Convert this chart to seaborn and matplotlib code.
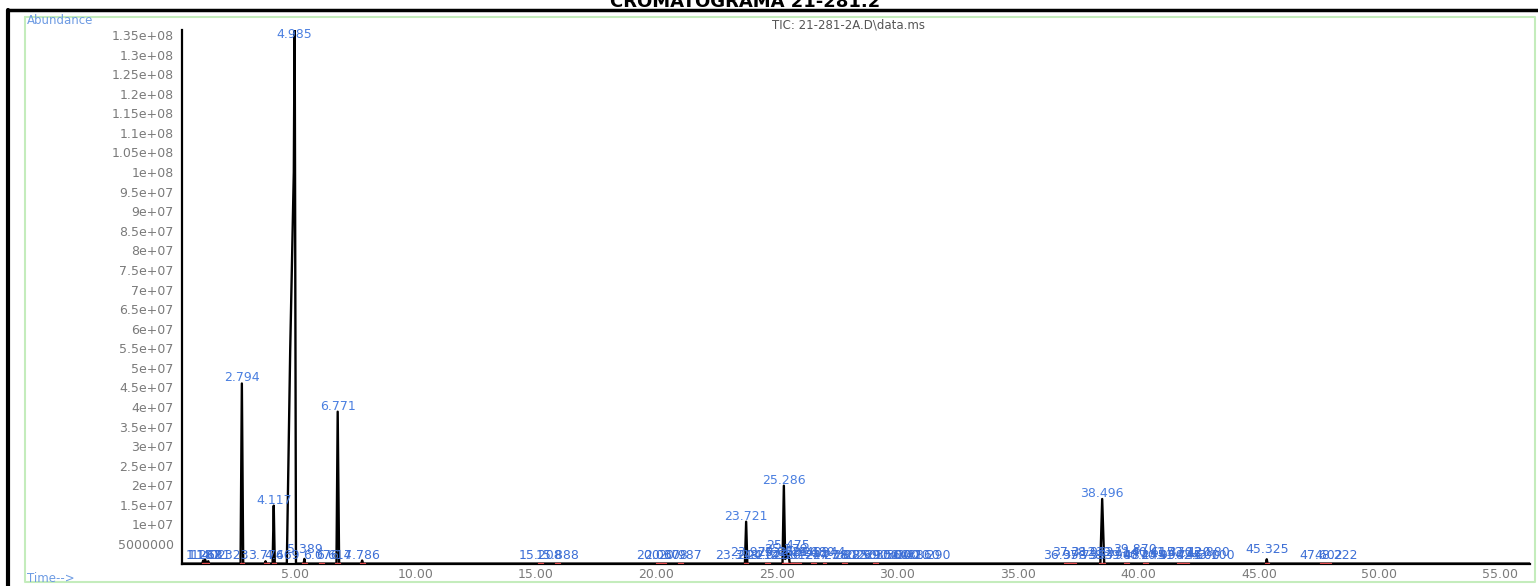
import matplotlib
matplotlib.use("Agg")
import matplotlib.pyplot as plt
from matplotlib.lines import Line2D
from matplotlib.ticker import MultipleLocator, FixedLocator
import seaborn as sns
import pandas as pd

# ---------------- data ----------------
trace_min = [0.31, 1.15, 1.19, 1.23, 1.27, 1.31, 1.40, 1.44,
             2.74, 2.794, 2.85,
             3.74, 3.776, 3.81,
             4.07, 4.117, 4.16,
             4.66, 4.80, 4.95, 4.985, 5.04,
             5.36, 5.389, 5.42,
             6.72, 6.771, 6.83,
             7.75, 7.786, 7.82,
             23.67, 23.721, 23.77,
             25.23, 25.286, 25.34, 25.40, 25.475, 25.53,
             38.42, 38.496, 38.58,
             45.29, 45.325, 45.36,
             56.25]
trace_abund = [0, 0, 8e5, 0, 1.0e6, 0, 6e5, 0,
               0, 4.60e7, 0,
               0, 6e5, 0,
               0, 1.48e7, 0,
               0, 5.45e7, 1.0e8, 1.40e8, 0,
               0, 1.2e6, 0,
               0, 3.88e7, 0,
               0, 8e5, 0,
               0, 1.07e7, 0,
               0, 1.99e7, 1.2e6, 1.6e6, 2.6e6, 0,
               0, 1.65e7, 0,
               0, 1.1e6, 0,
               0]

# labelled main peaks
peak_rt = [2.794, 4.117, 4.985, 6.771, 23.721, 25.286, 38.496]
peak_height = [4.60e7, 1.48e7, 1.40e8, 3.88e7, 1.07e7, 1.99e7, 1.65e7]

# small peak labels crowded along the baseline (rt, stagger level)
small_rt = [1.187, 1.268, 1.402, 1.611, 2.323, 3.776, 4.469, 5.389, 6.076, 6.614, 7.786,
            15.208, 15.888,
            20.060, 20.378, 20.987, 23.318, 23.979, 24.214,
            24.623, 25.098, 25.379, 25.475, 25.612, 25.940, 26.244, 26.480, 26.944,
            27.380, 27.812, 28.250, 28.690, 29.130, 29.560, 30.000, 30.420, 30.860, 31.290,
            36.958, 37.312, 37.735, 38.062, 38.790, 39.114, 39.487, 39.870, 40.245,
            40.615, 40.990, 41.370, 41.745, 42.120, 42.500, 42.880, 43.100,
            45.325, 47.602, 48.222]
small_level = [0, 0, 0, 0, 0, 0, 0, 2, 0, 0, 0,
               0, 0,
               0, 0, 0, 0, 1, 0,
               0, 1, 2, 3, 0, 1, 0, 1, 1,
               0, 0, 0, 0, 0, 0, 0, 0, 0, 0,
               0, 1, 0, 1, 0, 1, 0, 2, 0,
               1, 0, 1, 0, 1, 0, 1, 0,
               2, 0, 0]

# integration baseline marks (start, end) in minutes
red_start = [1.15, 2.70, 3.70, 4.05, 5.30, 6.00, 6.68, 7.70, 15.10, 15.80, 20.00, 20.90,
             23.62, 24.50, 25.20, 25.60, 26.40, 26.90, 27.70, 29.00, 36.90, 38.38,
             39.40, 40.20, 41.60, 45.25, 47.55]
red_end = [1.45, 2.90, 3.90, 4.20, 5.50, 6.20, 6.85, 7.90, 15.30, 16.00, 20.40, 21.10,
           23.80, 24.70, 25.55, 26.00, 26.60, 27.05, 27.90, 29.20, 37.40, 38.60,
           39.60, 40.40, 42.10, 45.40, 48.00]

ytick_vals = [5e6 * k for k in range(1, 28)]
ytick_labels = ["5000000", "1e+07", "1.5e+07", "2e+07", "2.5e+07", "3e+07", "3.5e+07",
                "4e+07", "4.5e+07", "5e+07", "5.5e+07", "6e+07", "6.5e+07", "7e+07",
                "7.5e+07", "8e+07", "8.5e+07", "9e+07", "9.5e+07", "1e+08", "1.05e+08",
                "1.1e+08", "1.15e+08", "1.2e+08", "1.25e+08", "1.3e+08", "1.35e+08"]
xtick_vals = [5, 10, 15, 20, 25, 30, 35, 40, 45, 50, 55]
xtick_labels = ["5.00", "10.00", "15.00", "20.00", "25.00", "30.00", "35.00",
                "40.00", "45.00", "50.00", "55.00"]

title = "CROMATOGRAMA 21-281.2"
subtitle = "TIC: 21-281-2A.D\\data.ms"

# ---------------- styling ----------------
sns.set_style("white")
plt.rcParams["font.family"] = ["DejaVu Sans"]

W, H = 1538, 586
fig = plt.figure(figsize=(W / 100, H / 100), dpi=100)
ax_left, ax_right, ax_top, ax_bottom = 182, 1530, 30, 563.6
ax = fig.add_axes([ax_left / W, (H - ax_bottom) / H,
                   (ax_right - ax_left) / W, (ax_bottom - ax_top) / H])
ax.set_facecolor("white")

df = pd.DataFrame({"time": trace_min, "abundance": trace_abund})
sns.lineplot(data=df, x="time", y="abundance", color="black", lw=1.7,
             estimator=None, sort=False, ax=ax, zorder=3)

ax.set_xlim(0.31, 56.25)
ax.set_ylim(0, 1.3628e8)

# red integration baselines
for s, e in zip(red_start, red_end):
    ax.plot([s, e], [2.5e5, 2.5e5], color="#e0484a", lw=1.0, zorder=4)

blue = "#3d6fd6"
# main peak labels
ymax = ax.get_ylim()[1]
for rt, h in zip(peak_rt, peak_height):
    y = min(h, 1.352e8)
    off = 4 if h < 1.35e8 else 0
    ax.annotate(f"{rt:.3f}", (rt, y), xytext=(0, off), textcoords="offset points",
                ha="center", va="center", fontsize=9, color="#4a7fe0", zorder=5)

# crowded small labels
for rt, lv in zip(small_rt, small_level):
    ax.annotate(f"{rt:.3f}", (rt, 0), xytext=(0, 1.2 + 2.3 * lv), textcoords="offset points",
                ha="center", va="bottom", fontsize=9, color=blue, zorder=5)

# axes decoration
for side in ["top", "right"]:
    ax.spines[side].set_visible(False)
for side in ["left", "bottom"]:
    ax.spines[side].set_color("black")
    ax.spines[side].set_linewidth(1.6)

ax.yaxis.set_major_locator(FixedLocator(ytick_vals))
ax.set_yticklabels(ytick_labels)
ax.yaxis.set_minor_locator(MultipleLocator(1e6))
ax.xaxis.set_major_locator(FixedLocator(xtick_vals))
ax.set_xticklabels(xtick_labels)
ax.xaxis.set_minor_locator(MultipleLocator(1))

ax.tick_params(axis="y", which="major", direction="out", length=5, width=1.0,
               color="black", labelsize=9, labelcolor="#7a7a7a", pad=1)
ax.tick_params(axis="y", which="minor", direction="out", length=2, width=0.8, color="black")
ax.tick_params(axis="x", which="major", direction="inout", length=7, width=1.0,
               color="black", labelsize=9, labelcolor="#7a7a7a", pad=0)
ax.tick_params(axis="x", which="minor", direction="out", length=3, width=0.8, color="black")
ax.set_xlabel("")
ax.set_ylabel("")

# frame and header texts
def fx(px):
    return px / W

def fy(py):
    return (H - py) / H

fig.add_artist(Line2D([fx(25), fx(25), fx(1535), fx(1535), fx(25)],
                      [fy(17), fy(582), fy(582), fy(17), fy(17)],
                      transform=fig.transFigure, color="#c4ecbc", lw=1.5))
fig.add_artist(Line2D([fx(8), fx(8)], [fy(10), fy(586)], transform=fig.transFigure,
                      color="black", lw=3))
fig.add_artist(Line2D([fx(8), fx(1538)], [fy(10), fy(10)], transform=fig.transFigure,
                      color="black", lw=2.5))

fig.text(fx(745), fy(7), title, ha="center", va="baseline", fontsize=13,
         fontweight="bold", color="black")
fig.text(fx(849), fy(25), subtitle, ha="center", va="center", fontsize=8.5, color="#555555")
fig.text(fx(27), fy(21), "Abundance", ha="left", va="center", fontsize=8.5, color="#6d9be3")
fig.text(fx(27), fy(578), "Time-->", ha="left", va="center", fontsize=8.5, color="#6d9be3")

fig.savefig("out.png", dpi=100, facecolor="white")
